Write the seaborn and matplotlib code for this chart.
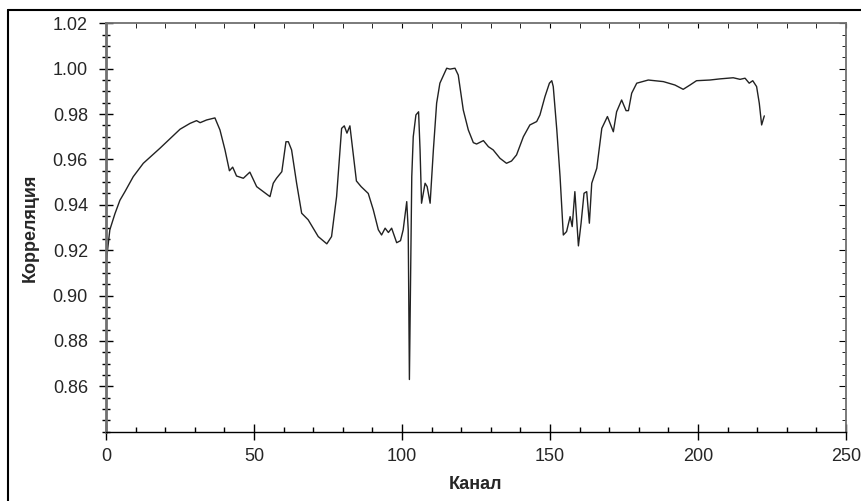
import matplotlib
matplotlib.use("Agg")
import matplotlib.pyplot as plt
from matplotlib.lines import Line2D
from matplotlib.ticker import MultipleLocator, FixedLocator
import seaborn as sns
import pandas as pd

# values
channel = [0, 1.3, 3.0, 4.7, 6.4, 9.2, 12.6, 18.2, 25.0, 28.4, 30.6, 31.8, 34.0,
           36.8, 38.5, 40.2, 41.7, 42.8, 44.1, 46.4, 48.6, 50.9, 55.4, 56.5, 57.6,
           59.4, 60.8, 61.6, 62.7, 64.4, 66.1, 68.3, 71.7, 74.6, 76.2, 77.9, 79.6,
           80.5, 81.4, 82.4, 84.6, 86.2, 88.6, 90.3, 92.0, 93.1, 94.3, 95.4, 96.5,
           98.2, 99.5, 100.4, 101.6, 102.1, 102.5, 103.3, 103.8, 104.7, 105.6,
           106.1, 106.6, 107.8, 108.5, 109.5, 110.6, 111.7, 112.8, 115.1, 116.2,
           117.9, 119.0, 120.7, 122.4, 124.1, 125.2, 127.5, 129.2, 130.8, 133.1,
           135.3, 137.0, 138.7, 141.0, 143.2, 145.5, 146.6, 148.3, 149.8, 150.6,
           151.1, 152.3, 153.4, 154.5, 155.6, 156.8, 157.5, 158.4, 159.6, 160.5,
           161.5, 162.4, 163.3, 164.1, 165.8, 167.5, 169.4, 171.4, 172.5, 174.2,
           175.7, 176.5, 177.6, 179.3, 183.2, 188.3, 192.2, 195.0, 197.3, 199.5,
           204.0, 207.4, 211.9, 214.2, 215.9, 217.3, 218.5, 219.8, 220.7, 221.5,
           222.4]
correlation = [0.914, 0.929, 0.936, 0.942, 0.9458, 0.9524, 0.9583, 0.9649, 0.9733,
               0.9759, 0.9771, 0.9762, 0.9774, 0.9783, 0.973, 0.9642, 0.955, 0.9566,
               0.9527, 0.9517, 0.9544, 0.948, 0.9436, 0.9495, 0.9517, 0.9546, 0.9678,
               0.9678, 0.9642, 0.9495, 0.9363, 0.9334, 0.926, 0.9228, 0.926, 0.9436,
               0.9737, 0.9748, 0.9716, 0.9748, 0.9505, 0.948, 0.945, 0.9378, 0.929,
               0.9267, 0.9297, 0.9278, 0.9297, 0.9233, 0.9242, 0.929, 0.9414, 0.929,
               0.863, 0.9524, 0.970, 0.9796, 0.981, 0.9642, 0.9407, 0.9495, 0.948,
               0.9407, 0.9642, 0.9848, 0.9936, 1.0002, 0.9998, 1.0002, 0.9972, 0.9818,
               0.973, 0.9674, 0.9668, 0.9683, 0.9656, 0.9642, 0.9605, 0.9583, 0.9593,
               0.962, 0.970, 0.9752, 0.9767, 0.9796, 0.9877, 0.9936, 0.9947, 0.9921,
               0.973, 0.9524, 0.9267, 0.9282, 0.9348, 0.9304, 0.9458, 0.9219, 0.9319,
               0.9451, 0.9458, 0.9319, 0.9495, 0.9561, 0.9737, 0.9789, 0.9722, 0.981,
               0.9862, 0.9815, 0.9815, 0.9892, 0.9936, 0.995, 0.9943, 0.9928, 0.9909,
               0.9928, 0.9947, 0.995, 0.9955, 0.996, 0.9953, 0.9958, 0.9936, 0.9947,
               0.9921, 0.9848, 0.9752, 0.9792]

y_ticks = [0.86, 0.88, 0.90, 0.92, 0.94, 0.96, 0.98, 1.00, 1.02]
x_ticks = [0, 50, 100, 150, 200, 250]

sns.set_style("white")
plt.rcParams["font.family"] = ["Liberation Sans", "DejaVu Sans"]

df = pd.DataFrame({"Канал": channel, "Корреляция": correlation})

fig = plt.figure(figsize=(8.62, 5.01), dpi=100)
ax = fig.add_axes([106 / 862, 1 - 431.7 / 501, 740 / 862, (431.7 - 23.3) / 501])

sns.lineplot(data=df, x="Канал", y="Корреляция", sort=False, estimator=None,
             color="#222222", linewidth=1.0, ax=ax)

ax.set_xlim(0, 250)
ax.set_ylim(0.84, 1.02)
ax.xaxis.set_major_locator(FixedLocator(x_ticks))
ax.xaxis.set_minor_locator(MultipleLocator(10))
ax.yaxis.set_major_locator(FixedLocator(y_ticks))
ax.yaxis.set_minor_locator(MultipleLocator(0.005))
ax.set_yticklabels([f"{v:.2f}" for v in y_ticks])

for side in ["top", "right", "left"]:
    ax.spines[side].set_color("#707070")
    ax.spines[side].set_linewidth(1.3)
ax.spines["left"].set_linewidth(2.0)
ax.spines["bottom"].set_color("black")
ax.spines["bottom"].set_linewidth(1.0)

ax.tick_params(axis="y", which="major", direction="inout", length=10, width=1,
               color="black", labelsize=13, pad=8, left=True, right=False)
ax.tick_params(axis="y", which="minor", direction="inout", length=6, width=1,
               color="black", left=True, right=False)
ax.tick_params(axis="x", which="major", direction="inout", length=12, width=1,
               color="black", labelsize=13, pad=6, bottom=True, top=False)
ax.tick_params(axis="x", which="minor", direction="in", length=3.5, width=1,
               color="black", bottom=True, top=False)

# mirrored inward ticks on top and right
sec_x = ax.secondary_xaxis("top")
sec_x.xaxis.set_major_locator(FixedLocator(x_ticks))
sec_x.xaxis.set_minor_locator(MultipleLocator(10))
sec_x.tick_params(which="both", direction="in", length=3.5, color="black", labeltop=False)
sec_x.spines["top"].set_visible(False)
sec_y = ax.secondary_yaxis("right")
sec_y.yaxis.set_major_locator(FixedLocator(y_ticks))
sec_y.yaxis.set_minor_locator(MultipleLocator(0.005))
sec_y.tick_params(which="major", direction="in", length=5, color="black", labelright=False)
sec_y.tick_params(which="minor", direction="in", length=3, color="black", labelright=False)
sec_y.spines["right"].set_visible(False)

ax.set_xlabel("Канал", fontsize=13, fontweight="bold", labelpad=8)
ax.set_ylabel("Корреляция", fontsize=13, fontweight="bold", labelpad=10)

# outer frame of the screenshot
fig.add_artist(Line2D([8 / 862, 1], [1 - 10 / 501] * 2, color="black", linewidth=1.5))
fig.add_artist(Line2D([8 / 862] * 2, [0, 1 - 10 / 501], color="black", linewidth=1.5))

fig.savefig("out.png", dpi=100)
